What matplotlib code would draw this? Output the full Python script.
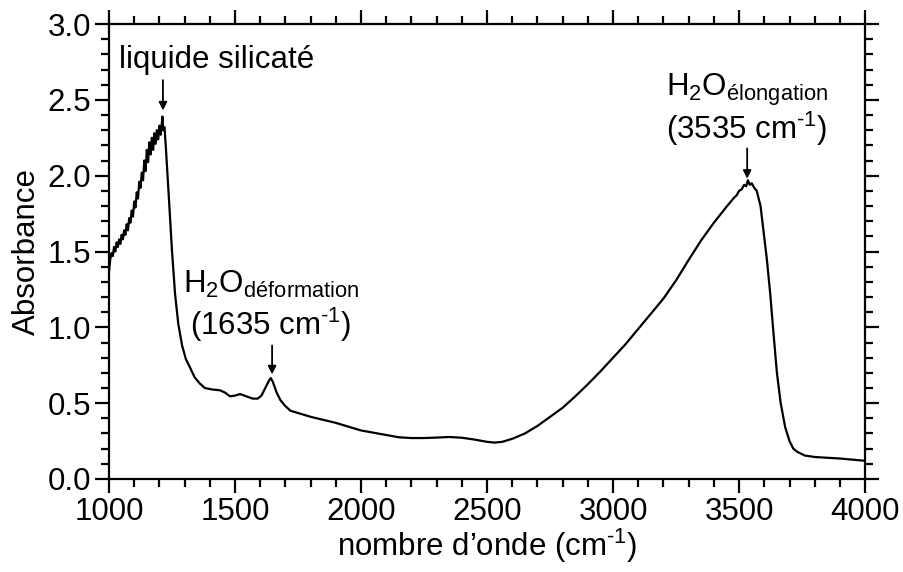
import matplotlib
matplotlib.use("Agg")
import matplotlib.pyplot as plt
from matplotlib.ticker import MultipleLocator, FormatStrFormatter

plt.rcParams['font.family'] = ['Liberation Sans', 'DejaVu Sans']
plt.rcParams['mathtext.fontset'] = 'custom'
plt.rcParams['mathtext.rm'] = 'Liberation Sans'
plt.rcParams['mathtext.it'] = 'Liberation Sans:italic'
plt.rcParams['mathtext.bf'] = 'Liberation Sans:bold'

# spectre (nombre d'onde en cm-1, absorbance)
wn_bruit = [1000, 1005, 1010, 1015, 1020, 1025, 1030, 1035, 1040, 1045,
            1050, 1055, 1060, 1065, 1070, 1075, 1080, 1085, 1090, 1095,
            1100, 1105, 1110, 1115, 1120, 1125, 1130, 1135, 1140, 1145,
            1150, 1155, 1160, 1165, 1170, 1175, 1180, 1185, 1190, 1195,
            1200, 1205, 1210, 1212, 1215, 1220]
abs_bruit = [1.37, 1.45, 1.49, 1.47, 1.53, 1.50, 1.56, 1.53, 1.58, 1.55,
             1.61, 1.58, 1.64, 1.61, 1.68, 1.64, 1.72, 1.69, 1.77, 1.73,
             1.83, 1.79, 1.89, 1.85, 1.96, 1.92, 2.02, 1.97, 2.10, 2.03,
             2.17, 2.09, 2.22, 2.14, 2.25, 2.17, 2.28, 2.21, 2.30, 2.24,
             2.33, 2.27, 2.36, 2.39, 2.30, 2.32]

wn_lisse = [1225, 1232, 1238, 1250, 1262, 1275, 1290, 1305, 1320, 1340,
            1360, 1380, 1410, 1440, 1460, 1480, 1500, 1520, 1545, 1570,
            1590, 1605, 1620, 1635, 1642, 1650, 1665, 1680, 1700, 1720,
            1750, 1800, 1850, 1900, 1950, 2000, 2050, 2100, 2150, 2200,
            2250, 2300, 2350, 2400, 2450, 2500, 2530, 2560, 2600, 2650,
            2700, 2750, 2800, 2850, 2900, 2950, 3000, 3050, 3100, 3150,
            3200, 3250, 3300, 3350, 3400, 3450, 3480, 3490, 3500, 3510,
            3520, 3528, 3535, 3542, 3550, 3560, 3570, 3585, 3595, 3610,
            3623, 3637, 3650, 3665, 3683, 3700, 3715, 3730, 3760, 3800,
            3900, 4000]
abs_lisse = [2.20, 2.00, 1.84, 1.50, 1.22, 1.02, 0.88, 0.79, 0.74, 0.67,
             0.63, 0.60, 0.59, 0.585, 0.57, 0.545, 0.55, 0.56, 0.545, 0.53,
             0.53, 0.55, 0.60, 0.65, 0.665, 0.64, 0.57, 0.52, 0.48, 0.45,
             0.435, 0.41, 0.39, 0.37, 0.345, 0.32, 0.305, 0.29, 0.275, 0.27,
             0.27, 0.273, 0.277, 0.272, 0.26, 0.245, 0.24, 0.245, 0.265, 0.30,
             0.35, 0.41, 0.47, 0.545, 0.625, 0.71, 0.80, 0.89, 0.99, 1.09,
             1.19, 1.31, 1.445, 1.575, 1.69, 1.795, 1.855, 1.87, 1.90, 1.91,
             1.94, 1.93, 1.97, 1.94, 1.95, 1.92, 1.90, 1.80, 1.66, 1.45,
             1.23, 0.95, 0.70, 0.50, 0.34, 0.25, 0.20, 0.18, 0.155, 0.145,
             0.135, 0.12]

wn = wn_bruit + wn_lisse
absorbance = abs_bruit + abs_lisse

fig = plt.figure(figsize=(9.04, 5.72), dpi=100)
ax = fig.add_axes([0.1206, 0.1626, 0.8364, 0.7954])

ax.plot(wn, absorbance, color='black', lw=1.6)

ax.set_xlim(1000, 4000)
ax.set_ylim(0, 3.0)
ax.xaxis.set_major_locator(MultipleLocator(500))
ax.xaxis.set_minor_locator(MultipleLocator(100))
ax.yaxis.set_major_locator(MultipleLocator(0.5))
ax.yaxis.set_minor_locator(MultipleLocator(0.1))
ax.yaxis.set_major_formatter(FormatStrFormatter('%.1f'))

fs = 22.5

for s in ax.spines.values():
    s.set_linewidth(1.6)
ax.tick_params(which='both', direction='out', top=True, right=True,
               labelsize=fs, width=1.6, colors='black')
ax.tick_params(which='major', length=10, pad=3)
ax.tick_params(which='minor', length=5.5)

ax.set_xlabel('nombre d\u2019onde (cm$^{\\text{-1}}$)', fontsize=fs, labelpad=0)
ax.set_ylabel('Absorbance', fontsize=fs, labelpad=4)

arrow = dict(arrowstyle='-|>', color='black', lw=1.3, mutation_scale=12,
             shrinkA=0, shrinkB=0)

ax.text(1428, 2.71, 'liquide silicaté', fontsize=fs, ha='center', va='baseline')
ax.annotate('', xy=(1214, 2.43), xytext=(1214, 2.63), arrowprops=arrow)

ax.text(1642, 1.225, 'H$_2$O$_{\\rm déformation}$', fontsize=fs,
        ha='center', va='baseline')
ax.text(1642, 0.95, '(1635 cm$^{\\text{-1}}$)', fontsize=fs, ha='center', va='baseline')
ax.annotate('', xy=(1647, 0.69), xytext=(1647, 0.88), arrowprops=arrow)

ax.text(3532, 2.525, 'H$_2$O$_{\\rm élongation}$', fontsize=fs,
        ha='center', va='baseline')
ax.text(3532, 2.245, '(3535 cm$^{\\text{-1}}$)', fontsize=fs, ha='center', va='baseline')
ax.annotate('', xy=(3532, 1.98), xytext=(3532, 2.18), arrowprops=arrow)

fig.savefig('out.png', dpi=100)
